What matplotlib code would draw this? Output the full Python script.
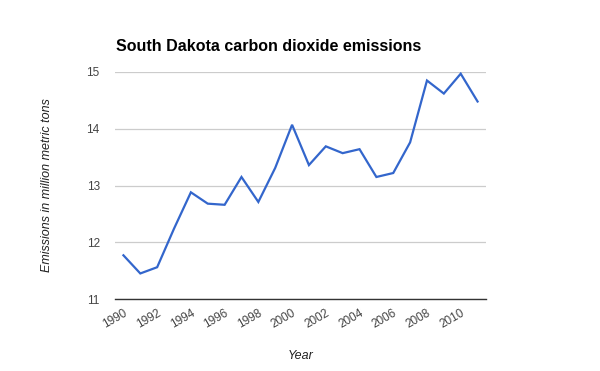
import matplotlib
matplotlib.use("Agg")
import matplotlib.pyplot as plt

# === DATOS ===
years = list(range(1990, 2012))
emissions = [11.77, 11.45, 11.56, 12.24, 12.88, 12.68, 12.66, 13.15, 12.71, 13.31,
             14.07, 13.36, 13.69, 13.57, 13.64, 13.15, 13.22, 13.76, 14.85, 14.62,
             14.97, 14.48]
y_ticks = [11, 12, 13, 14, 15]
x_labels = [str(y) for y in years[::2]]

plt.rcParams["font.family"] = ["Liberation Sans", "DejaVu Sans"]

fig = plt.figure(figsize=(6, 3.71), dpi=100)
ax = fig.add_axes([115/600, 72/371, 371/600, 227/371])

idx = list(range(len(years)))
ax.plot(idx, emissions, color="#3366CC", lw=1.6, solid_joinstyle="miter")

ax.set_xlim(-0.5, len(years) - 0.5)
ax.set_ylim(11, 15)
ax.set_yticks(y_ticks)
ax.set_yticklabels([str(t) for t in y_ticks])
ax.set_xticks(idx[::2])
ax.set_xticklabels(x_labels, rotation=30, ha="right", rotation_mode="anchor")

ax.grid(axis="y", color="#cccccc", lw=0.9)
ax.set_axisbelow(True)
for s in ["top", "right", "left"]:
    ax.spines[s].set_visible(False)
ax.spines["bottom"].set_color("#333333")
ax.spines["bottom"].set_linewidth(1.0)
ax.spines["bottom"].set_zorder(3)
ax.tick_params(axis="both", length=0, labelsize=8.5, colors="#444444")
ax.tick_params(axis="y", pad=11)
ax.tick_params(axis="x", pad=6)

ax.set_xlabel("Year", fontstyle="italic", fontsize=9, color="#222222", labelpad=14)
ax.set_ylabel("Emissions in million metric tons", fontstyle="italic", fontsize=9,
              color="#222222", labelpad=24)
fig.text(116/600, 1 - 51/371, "South Dakota carbon dioxide emissions",
         fontsize=11.5, fontweight="bold", color="#000000", ha="left", va="baseline")

fig.savefig("out.png", dpi=100)
